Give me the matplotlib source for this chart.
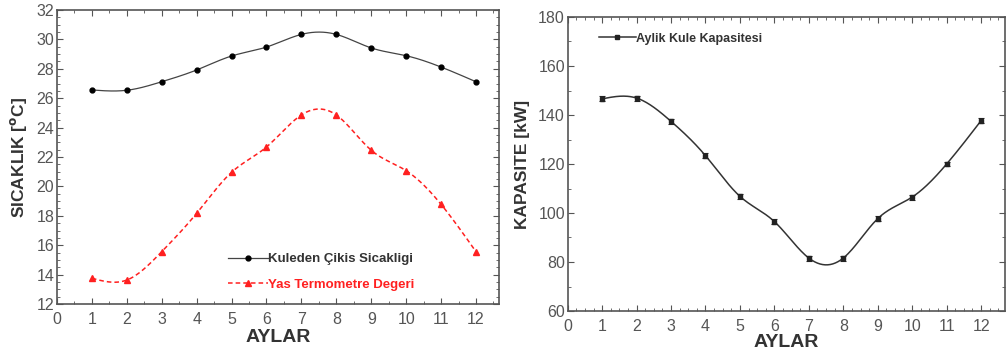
import numpy as np
import matplotlib
matplotlib.use("Agg")
import matplotlib.pyplot as plt
from matplotlib.ticker import MultipleLocator

plt.rcParams['font.family'] = ['Liberation Sans', 'DejaVu Sans']

# monthly values
months = [1, 2, 3, 4, 5, 6, 7, 8, 9, 10, 11, 12]
kule_cikis = [26.56, 26.54, 27.12, 27.92, 28.87, 29.48, 30.34, 30.34, 29.42, 28.89, 28.12, 27.12]
yas_termometre = [13.75, 13.63, 15.56, 18.17, 20.96, 22.68, 24.86, 24.86, 22.46, 21.07, 18.78, 15.56]
kapasite = [146.6, 146.9, 137.4, 123.4, 106.8, 96.5, 81.6, 81.6, 97.7, 106.5, 120.0, 137.7]
kapasite_err = [1.0] * 12


def spline(x, y, n=300):
    # natural cubic spline, used only to draw the smooth connecting line
    x = np.asarray(x, float)
    y = np.asarray(y, float)
    k = len(x)
    h = np.diff(x)
    A = np.zeros((k, k))
    b = np.zeros(k)
    A[0, 0] = A[-1, -1] = 1
    for i in range(1, k - 1):
        A[i, i - 1] = h[i - 1]
        A[i, i] = 2 * (h[i - 1] + h[i])
        A[i, i + 1] = h[i]
        b[i] = 3 * ((y[i + 1] - y[i]) / h[i] - (y[i] - y[i - 1]) / h[i - 1])
    c = np.linalg.solve(A, b)
    xs = np.linspace(x[0], x[-1], n)
    idx = np.clip(np.searchsorted(x, xs) - 1, 0, k - 2)
    dx = xs - x[idx]
    bb = (y[idx + 1] - y[idx]) / h[idx] - h[idx] * (2 * c[idx] + c[idx + 1]) / 3
    dd = (c[idx + 1] - c[idx]) / (3 * h[idx])
    return xs, y[idx] + bb * dx + c[idx] * dx ** 2 + dd * dx ** 3


def style_axes(ax, xminor, ymajor, yminor):
    ax.xaxis.set_major_locator(MultipleLocator(1))
    ax.xaxis.set_minor_locator(MultipleLocator(xminor))
    ax.yaxis.set_major_locator(MultipleLocator(ymajor))
    ax.yaxis.set_minor_locator(MultipleLocator(yminor))
    ax.tick_params(which='both', direction='in', top=True, right=True,
                   colors='#555555', labelcolor='#555555', labelsize=11.5)
    ax.tick_params(axis='x', which='major', pad=6)
    ax.tick_params(axis='y', which='major', pad=2)
    ax.tick_params(which='major', length=4, width=0.8)
    ax.tick_params(which='minor', length=2, width=0.6)
    for s in ax.spines.values():
        s.set_color('#555555')
        s.set_linewidth(1.2)


fig = plt.figure(figsize=(10.06, 3.56), dpi=100)

# left panel: temperatures
ax1 = fig.add_axes([57 / 1006, 52 / 356, 442 / 1006, 294 / 356])
xs, ys = spline(months, kule_cikis)
ax1.plot(xs, ys, color='#444444', lw=0.9)
ax1.plot(months, kule_cikis, 'o', color='black', ms=3.5, ls='none')
xs, ys = spline(months, yas_termometre)
ax1.plot(xs, ys, color='#ff2020', lw=1.1, ls=(0, (3, 2)))
ax1.plot(months, yas_termometre, '^', color='#ff2020', ms=4.5, ls='none')
h1, = ax1.plot([], [], color='#444444', lw=0.9, marker='o', ms=3.5, mfc='black', mec='black')
h2, = ax1.plot([], [], color='#ff2020', lw=1.1, ls=(0, (3, 2)), marker='^', ms=4.5)
leg = ax1.legend([h1, h2], ['Kuleden Çikis Sicakligi', 'Yas Termometre Degeri'],
                 loc='lower left', bbox_to_anchor=(0.36, 0.005), frameon=False,
                 handlelength=3.0, handletextpad=0.0, numpoints=1, labelspacing=1.0,
                 prop={'weight': 'bold', 'size': 9.5})
leg.get_texts()[0].set_color('#333333')
leg.get_texts()[1].set_color('#ff2020')
ax1.set_xlim(0, 12.66)
ax1.set_ylim(12, 32)
style_axes(ax1, 0.5, 2, 0.5)
ax1.set_xlabel('AYLAR', fontsize=14, fontweight='bold', color='#333333', labelpad=1)
ax1.set_ylabel('SICAKLIK [$^{\\mathbf{o}}$C]', fontsize=12.5, fontweight='bold',
               color='#333333', labelpad=5)

# right panel: capacity
ax2 = fig.add_axes([567.7 / 1006, 45 / 356, 437.5 / 1006, 294 / 356])
xs, ys = spline(months, kapasite)
ax2.plot(xs, ys, color='#333333', lw=1.1)
ax2.errorbar(months, kapasite, yerr=kapasite_err, fmt='s', color='#222222', ms=2.5,
             capsize=2, elinewidth=0.8, capthick=0.8)
h3, = ax2.plot([], [], color='#333333', lw=1.1, marker='s', ms=3, mfc='#222222', mec='#222222')
leg2 = ax2.legend([h3], ['Aylik Kule Kapasitesi'], loc='upper left',
                  bbox_to_anchor=(0.045, 0.985), frameon=False, handlelength=3.0,
                  handletextpad=0.0, numpoints=1, prop={'weight': 'bold', 'size': 9})
leg2.get_texts()[0].set_color('#333333')
ax2.set_xlim(0, 12.7)
ax2.set_ylim(60, 180)
style_axes(ax2, 0.25, 20, 10)
ax2.set_xlabel('AYLAR', fontsize=14, fontweight='bold', color='#333333', labelpad=0)
ax2.set_ylabel('KAPASITE [kW]', fontsize=12.5, fontweight='bold', color='#333333', labelpad=6)

fig.savefig('out.png', dpi=100)
